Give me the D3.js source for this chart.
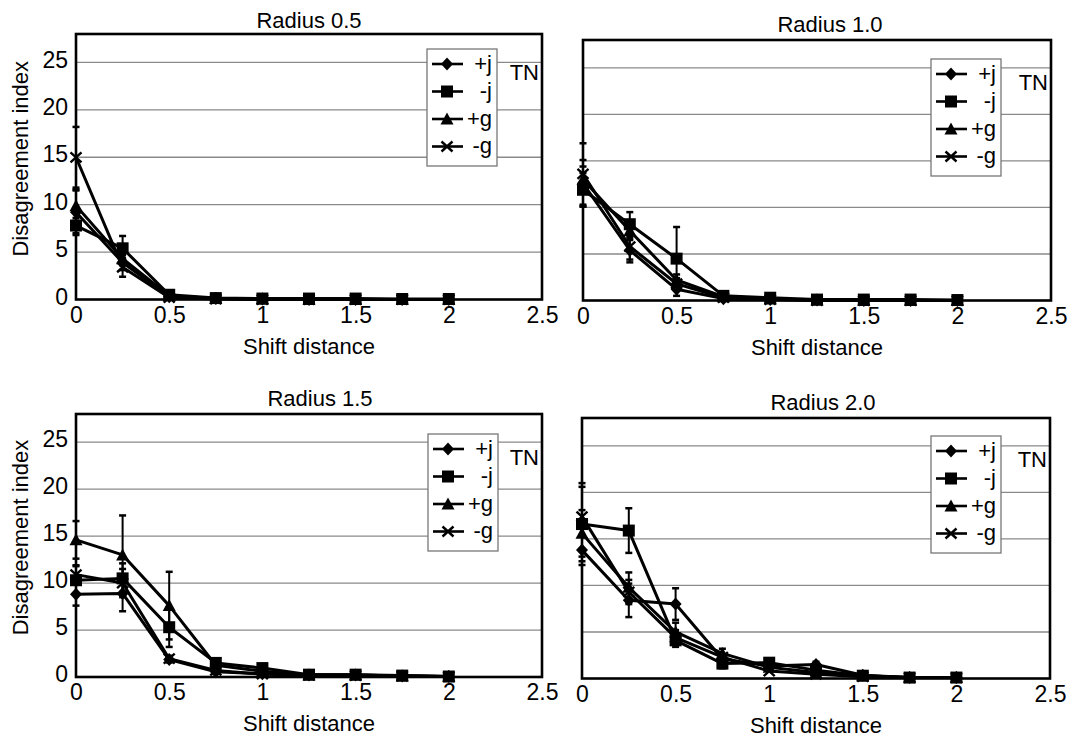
<!DOCTYPE html>
<html>
<head>
<meta charset="utf-8">
<script src="https://cdn.jsdelivr.net/npm/d3@7"></script>
<style>
  body { margin: 0; background: #fff; }
  svg { display: block; font-family: "Liberation Sans", Arial, sans-serif; }
</style>
</head>
<body>
<script>
// shift distances (x) and series
const shifts = [0, 0.25, 0.5, 0.75, 1, 1.25, 1.5, 1.75, 2];
const seriesNames = ["+j", "-j", "+g", "-g"];
const seriesShapes = ["diamond", "square", "triangle", "cross"];
const xTicks = [0, 0.5, 1, 1.5, 2, 2.5];
const yTicks = [0, 5, 10, 15, 20, 25];
const yGrid = [5, 10, 15, 20, 25];
const titles = ["Radius 0.5", "Radius 1.0", "Radius 1.5", "Radius 2.0"];

// mean disagreement index, order +j, -j, +g, -g
const r05 = [
  [9.2, 3.9, 0.3, 0.1, 0.05, 0, 0, 0, 0],
  [7.8, 5.4, 0.5, 0.15, 0.1, 0.1, 0.1, 0.05, 0.05],
  [9.9, 4.3, 0.4, 0.1, 0.05, 0, 0, 0, 0],
  [15.0, 3.4, 0.2, 0.05, 0, 0, 0, 0, 0]
];
const r05Err = [
  [2.4, 0.8, 0, 0, 0, 0, 0, 0, 0],
  [0.8, 1.3, 0.2, 0, 0, 0, 0, 0, 0],
  [1.6, 0.7, 0, 0, 0, 0, 0, 0, 0],
  [3.2, 1.0, 0, 0, 0, 0, 0, 0, 0]
];
const r10 = [
  [12.6, 5.4, 1.2, 0.2, 0.1, 0.05, 0, 0, 0],
  [11.9, 8.2, 4.5, 0.5, 0.3, 0.1, 0.1, 0.1, 0.05],
  [13.0, 7.5, 2.2, 0.4, 0.15, 0.05, 0, 0, 0],
  [13.6, 5.8, 1.8, 0.3, 0.1, 0, 0, 0, 0]
];
const r10Err = [
  [2.5, 1.3, 0.7, 0.3, 0, 0, 0, 0, 0],
  [1.8, 1.3, 3.4, 0, 0, 0, 0, 0, 0],
  [1.4, 1.0, 0.6, 0, 0, 0, 0, 0, 0],
  [3.3, 1.4, 0.6, 0, 0, 0, 0, 0, 0]
];
const r15 = [
  [8.8, 8.9, 1.85, 0.55, 0.35, 0.2, 0.2, 0.1, 0.05],
  [10.3, 10.5, 5.3, 1.5, 0.95, 0.25, 0.25, 0.15, 0.05],
  [14.6, 13.0, 7.6, 1.25, 0.6, 0.2, 0.2, 0.1, 0.05],
  [10.9, 10.0, 1.95, 0.7, 0.3, 0.2, 0.15, 0.1, 0.05]
];
const r15Err = [
  [1.2, 1.9, 0.3, 0.2, 0, 0, 0, 0, 0],
  [1.5, 1.6, 2.1, 0.3, 0.3, 0, 0, 0, 0],
  [2.0, 4.2, 3.6, 0.3, 0, 0, 0, 0, 0],
  [1.0, 1.5, 0.3, 0, 0, 0, 0, 0, 0]
];
const r20 = [
  [13.8, 8.4, 8.0, 2.1, 1.35, 1.5, 0.35, 0.1, 0.1],
  [16.6, 15.9, 4.1, 1.6, 1.7, 0.9, 0.3, 0.1, 0.1],
  [15.6, 9.8, 5.0, 2.7, 1.2, 0.65, 0.3, 0.1, 0.1],
  [17.4, 9.3, 4.4, 2.3, 0.8, 0.45, 0.2, 0.1, 0.1]
];
const r20Err = [
  [1.6, 1.8, 1.7, 0.4, 0.3, 0.3, 0, 0, 0],
  [4.0, 2.4, 0.7, 0.5, 0.3, 0, 0, 0, 0],
  [2.5, 1.6, 1.0, 0.5, 0, 0, 0, 0, 0],
  [3.6, 1.3, 0.8, 0, 0, 0, 0, 0, 0]
];

// panel layout (pixels)
const panels = [
  { title: titles[0], data: r05, err: r05Err, l: 76, r: 542, t: 34, b: 299.5, titleX: 309, titleY: 28, legX: 427, legY: 49, yLabels: true },
  { title: titles[1], data: r10, err: r10Err, l: 583, r: 1051, t: 40, b: 300.5, titleX: 830, titleY: 32, legX: 931, legY: 59, yLabels: false },
  { title: titles[2], data: r15, err: r15Err, l: 76, r: 542, t: 414, b: 677, titleX: 320, titleY: 406, legX: 428, legY: 434, yLabels: true },
  { title: titles[3], data: r20, err: r20Err, l: 582, r: 1050, t: 418, b: 678.5, titleX: 823, titleY: 410, legX: 931, legY: 436, yLabels: false }
];

const FONT = "'Liberation Sans', Arial, sans-serif";

const svg = d3.select("body").append("svg")
  .attr("width", 1071)
  .attr("height", 737);

function markerPath(shape) {
  if (shape === "diamond") return "M0,-6.5L6,0L0,6.5L-6,0Z";
  if (shape === "square") return "M-6,-6H6V6H-6Z";
  if (shape === "triangle") return "M0,-6.5L6.5,5.5H-6.5Z";
  return "M-5.5,-5L5.5,5M-5.5,5L5.5,-5";
}

function drawMarker(g, shape, x, y) {
  const p = g.append("path")
    .attr("transform", `translate(${x},${y})`)
    .attr("d", markerPath(shape));
  if (shape === "cross") {
    p.attr("fill", "none").attr("stroke", "#000").attr("stroke-width", 2.4);
  } else {
    p.attr("fill", "#000");
  }
}

panels.forEach(p => {
  const x = d3.scaleLinear().domain([0, 2.5]).range([p.l, p.r]);
  const y = d3.scaleLinear().domain([0, 28]).range([p.b, p.t]);
  const g = svg.append("g");

  // gridlines
  g.selectAll("line.grid")
    .data(yGrid)
    .enter()
    .append("line")
    .attr("x1", p.l).attr("x2", p.r)
    .attr("y1", d => y(d)).attr("y2", d => y(d))
    .attr("stroke", "#8a8a8a")
    .attr("stroke-width", 1.3);

  // frame
  g.append("rect")
    .attr("x", p.l).attr("y", p.t)
    .attr("width", p.r - p.l).attr("height", p.b - p.t)
    .attr("fill", "none")
    .attr("stroke", "#000")
    .attr("stroke-width", 2.6);

  // x axis labels
  const xAxis = g.append("g")
    .attr("transform", `translate(0,${p.b})`)
    .call(d3.axisBottom(x).tickValues(xTicks).tickSize(0).tickPadding(7).tickFormat(d3.format("")));
  xAxis.select(".domain").remove();
  xAxis.selectAll("text")
    .attr("fill", "#000")
    .style("font-size", "23px")
    .style("font-family", FONT);

  if (p.yLabels) {
    const yAxis = g.append("g")
      .attr("transform", `translate(${p.l},0)`)
      .call(d3.axisLeft(y).tickValues(yTicks).tickSize(0).tickPadding(8));
    yAxis.select(".domain").remove();
    yAxis.selectAll("text")
      .attr("fill", "#000")
      .attr("dy", "0.2em")
      .style("font-size", "23px")
      .style("font-family", FONT);

    g.append("text")
      .attr("transform", `translate(28,${(p.t + p.b) / 2 - 8}) rotate(-90)`)
      .attr("text-anchor", "middle")
      .style("font-size", "22px")
      .text("Disagreement index");
  }

  // titles
  g.append("text")
    .attr("x", p.titleX)
    .attr("y", p.titleY)
    .attr("text-anchor", "middle")
    .style("font-size", "22px")
    .text(p.title);

  g.append("text")
    .attr("x", (p.l + p.r) / 2)
    .attr("y", p.b + 54)
    .attr("text-anchor", "middle")
    .style("font-size", "22px")
    .text("Shift distance");

  // error bars
  p.data.forEach((vals, si) => {
    vals.forEach((v, i) => {
      const e = p.err[si][i];
      if (!e) return;
      const cx = x(shifts[i]);
      g.append("line")
        .attr("x1", cx).attr("x2", cx)
        .attr("y1", y(v + e)).attr("y2", y(Math.max(0, v - e)))
        .attr("stroke", "#000").attr("stroke-width", 2);
      [v + e, Math.max(0, v - e)].forEach(ev => {
        g.append("line")
          .attr("x1", cx - 3.5).attr("x2", cx + 3.5)
          .attr("y1", y(ev)).attr("y2", y(ev))
          .attr("stroke", "#000").attr("stroke-width", 2.5);
      });
    });
  });

  // lines
  const line = d3.line()
    .x((d, i) => x(shifts[i]))
    .y(d => y(d));
  p.data.forEach(vals => {
    g.append("path")
      .attr("d", line(vals))
      .attr("fill", "none")
      .attr("stroke", "#000")
      .attr("stroke-width", 3)
      .attr("stroke-linejoin", "round");
  });

  // markers
  p.data.forEach((vals, si) => {
    vals.forEach((v, i) => drawMarker(g, seriesShapes[si], x(shifts[i]), y(v)));
  });

  // legend
  const leg = g.append("g").attr("transform", `translate(${p.legX},${p.legY})`);
  leg.append("rect")
    .attr("width", 70).attr("height", 117)
    .attr("fill", "#fff")
    .attr("stroke", "#777")
    .attr("stroke-width", 1.3);
  seriesNames.forEach((name, i) => {
    const ly = 15 + i * 27.5;
    leg.append("line")
      .attr("x1", 5).attr("x2", 36)
      .attr("y1", ly).attr("y2", ly)
      .attr("stroke", "#000").attr("stroke-width", 2.6);
    drawMarker(leg, seriesShapes[i], 20, ly);
    leg.append("text")
      .attr("x", 65)
      .attr("y", ly)
      .attr("dy", "0.3em")
      .attr("text-anchor", "end")
      .style("font-size", "22px")
      .text(name);
  });

  g.append("text")
    .attr("x", p.r - 3)
    .attr("y", p.legY + 31)
    .attr("text-anchor", "end")
    .style("font-size", "22px")
    .text("TN");
});
</script>
</body>
</html>
